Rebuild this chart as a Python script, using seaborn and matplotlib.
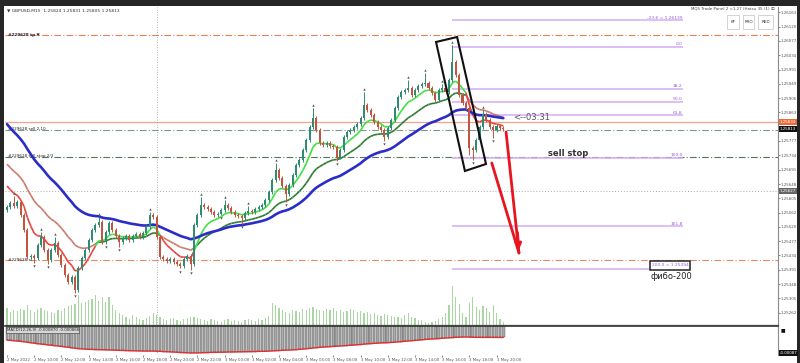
import numpy as np
import pandas as pd
import matplotlib
matplotlib.use("Agg")
import matplotlib.pyplot as plt
import seaborn as sns
from matplotlib.collections import LineCollection
from matplotlib.patches import Polygon, Rectangle

# ---------------- data ----------------
symbol_header = "\u25bc GBPUSD,M15  1.25824 1.25831 1.25805 1.25813"
time_start = "2022-05-02 08:00"
bar_minutes = 15

first_open = 1.25570
closes = [
    1.25579, 1.25591, 1.25582, 1.25594, 1.25555, 1.25510, 1.25429, 1.25432, 1.25426, 1.25465,
    1.25489, 1.25450, 1.25420, 1.25450, 1.25471, 1.25435, 1.25405, 1.25375, 1.25354, 1.25369,
    1.25330, 1.25396, 1.25426, 1.25450, 1.25480, 1.25510, 1.25525, 1.25534, 1.25474, 1.25504,
    1.25531, 1.25510, 1.25492, 1.25474, 1.25486, 1.25492, 1.25480, 1.25492, 1.25498, 1.25489,
    1.25501, 1.25519, 1.25555, 1.25549, 1.25489, 1.25429, 1.25423, 1.25417, 1.25423, 1.25414,
    1.25408, 1.25402, 1.25423, 1.25432, 1.25408, 1.25525, 1.25555, 1.25585, 1.25579, 1.25573,
    1.25564, 1.25555, 1.25558, 1.25570, 1.25585, 1.25576, 1.25564, 1.25555, 1.25552, 1.25546,
    1.25561, 1.25567, 1.25564, 1.25573, 1.25579, 1.25585, 1.25600, 1.25624, 1.25660, 1.25690,
    1.25666, 1.25642, 1.25618, 1.25645, 1.25675, 1.25705, 1.25720, 1.25750, 1.25780, 1.25819,
    1.25846, 1.25810, 1.25771, 1.25765, 1.25771, 1.25762, 1.25759, 1.25729, 1.25750, 1.25789,
    1.25804, 1.25810, 1.25819, 1.25828, 1.25846, 1.25885, 1.25870, 1.25855, 1.25834, 1.25819,
    1.25810, 1.25789, 1.25816, 1.25840, 1.25876, 1.25909, 1.25924, 1.25930, 1.25936, 1.25915,
    1.25930, 1.25942, 1.25948, 1.25951, 1.25936, 1.25921, 1.25900, 1.25930, 1.25936, 1.25924,
    1.25960, 1.26014, 1.25975, 1.25915, 1.25891, 1.25876, 1.25756, 1.25750, 1.25780, 1.25819,
    1.25858, 1.25840, 1.25819, 1.25810, 1.25822, 1.25816, 1.25813,
]
high_wicks = {2: 1.25612, 10: 1.25504, 14: 1.25489, 27: 1.25549, 42: 1.25564, 57: 1.25609,
              64: 1.25600, 71: 1.25582, 79: 1.25711, 90: 1.25876, 105: 1.25924, 118: 1.25960,
              123: 1.25981, 128: 1.25948, 131: 1.26065, 140: 1.25870}
low_wicks = {8: 1.25411, 12: 1.25408, 20: 1.25321, 29: 1.25468, 33: 1.25459, 51: 1.25395,
             54: 1.25390, 63: 1.25555, 69: 1.25528, 82: 1.25594, 97: 1.25717, 111: 1.25777,
             136: 1.25735, 137: 1.25720, 143: 1.25786}
default_wick = 0.00006

volumes = [
    170, 130, 150, 140, 160, 150, 200, 150, 130, 160, 170, 150, 140, 130, 120, 150, 140, 170, 190, 200, 210,
    300, 220, 230, 250, 260, 300, 240, 280, 230, 280, 200, 150,
    120, 100, 80, 60, 100, 80, 60, 50, 70, 90, 120, 100, 80, 60, 50, 60, 70, 50, 40, 60, 70, 80,
    80, 70, 60, 50, 40, 60, 50, 40, 30, 50, 60, 40, 50, 40, 30, 50, 60, 50, 40, 60, 50, 70, 90,
    220, 200, 170, 150, 130, 120,
    150, 140, 130, 160, 150, 170, 180, 160, 150, 140, 160, 150, 170, 140, 150, 130,
    140, 160, 150, 130, 140, 120, 130, 110, 120, 100, 90, 110, 100, 90, 80, 80,
    70, 100, 120, 80, 70, 50, 50, 30, 20, 30, 40, 60, 80,
    120, 200, 390, 280, 210, 120, 80, 220, 280, 180, 150, 190, 170, 130, 200, 120, 60, 30,
]

up_fractals = [2, 10, 14, 27, 42, 57, 64, 71, 79, 90, 105, 118, 123, 128, 131, 140]
down_fractals = [8, 12, 20, 29, 33, 51, 54, 63, 69, 82, 97, 111, 137, 143]

fast_period, slow_period, long_period, osc_period = 8, 21, 40, 55
fast_seed, slow_seed, long_seed, osc_seed = 1.25660, 1.25720, 1.25840, 1.25780

tp_level, sl_level = 1.26095, 1.25420
ask_level, bid_level = 1.25834, 1.25810
sell_stop_level, dotted_level = 1.25729, 1.25627
vline_bar = 44

fib_high, fib_low = 1.26060, 1.25727
fib_ratios = [-0.236, 0.0, 0.382, 0.5, 0.618, 1.0, 1.618, 2.0]
fib_names = ["-23.6", "0.0", "38.2", "50.0", "61.8", "100.0", "161.8", "200.0"]
fib_x = (130.9, 198.8)

sell_box = [(126.2, 1.26074), (132.4, 1.26089), (140.9, 1.25708), (134.7, 1.25687)]
arrow_tip = (150.6, 1.25441)
arrow_tails = [(146.8, 1.25804), (142.6, 1.25711)]
timer_text_pos = (148.8, 1.25849)
sell_stop_text_pos = (159.1, 1.25741)
fibo_text_pos = (189.3, 1.25372)
fib200_box = (189.1, 1.25390, 11.8, 0.00027)

# ---------------- derived series ----------------
N = len(closes)
idx = np.arange(N)
c = np.array(closes)
o = np.array([first_open] + closes[:-1])
hi = np.maximum(o, c) + default_wick
lo = np.minimum(o, c) - default_wick
for k, v in high_wicks.items():
    hi[k] = v
for k, v in low_wicks.items():
    lo[k] = v


def ema(seed, period):
    s = pd.Series([seed] + closes).ewm(span=period, adjust=False).mean().values
    return s[1:]


fast = ema(fast_seed, fast_period)
slow = ema(slow_seed, slow_period)
longma = ema(long_seed, long_period)
osc = ema(osc_seed, osc_period)
times = pd.date_range(time_start, periods=N, freq=f"{bar_minutes}min")

# ---------------- figure ----------------
sns.set_theme(style="white")
plt.rcParams['font.family'] = ['DejaVu Sans', 'Noto Sans CJK JP']

W, H = 800, 363
fig = plt.figure(figsize=(8, 3.63), dpi=100, facecolor='#262626')
fig.add_artist(Rectangle((4 / W, 0), 793 / W, 357 / H, transform=fig.transFigure,
                         facecolor='white', edgecolor='none', zorder=0))

ax = fig.add_axes([5 / W, 1 - 325 / H, 773 / W, 318 / H])
sub = fig.add_axes([5 / W, 1 - 355 / H, 773 / W, 29 / H], sharex=ax)
vax = ax.twinx()
vax.set_zorder(1)
ax.set_zorder(2)
for a in (ax, vax, sub):
    a.patch.set_visible(False)

ax.set_xlim(-0.6, 226.8)
ax.set_ylim(1.25225, 1.26179)

# volumes
vax.set_ylim(0, 3180)
vax.bar(idx, volumes, width=0.35, color='#a9d6a2', linewidth=0)
vax.axis('off')

# horizontal levels
dd = (0, (6, 2, 1, 2))
ax.axhline(tp_level, color='#e8824c', lw=0.8, ls=dd)
ax.axhline(sl_level, color='#e88a6a', lw=0.8, ls=dd)
ax.axhline(ask_level, color='#f2a48a', lw=0.9)
ax.axhline(bid_level, color='#7f9a88', lw=0.8, ls=dd)
ax.axhline(sell_stop_level, color='#55765a', lw=0.8, ls=dd)
ax.axhline(dotted_level, color='#aaaaaa', lw=0.7, ls=(0, (1, 2)))
ax.axvline(vline_bar, color='#999999', lw=0.6, ls=(0, (1, 2)))
sub.axvline(vline_bar, color='#999999', lw=0.6, ls=(0, (1, 2)))

# level tags on the left
tagkw = dict(fontsize=3.0, color='#222222', va='center', ha='left')
ax.text(0.2, tp_level, "#229628 tp \u25bc", fontweight='bold', **tagkw)
ax.text(0.2, bid_level + 0.00004, "#229628 sell 2.10", **tagkw)
ax.text(0.2, sell_stop_level + 0.00004, "#229628 sell stop 2/3", **tagkw)
ax.text(0.2, sl_level, "#229628 sl", **tagkw)

# fibonacci
fib_vals = [fib_high - r * (fib_high - fib_low) for r in fib_ratios]
for name, v in zip(fib_names, fib_vals):
    ax.plot(fib_x, [v, v], color='#d3aef5', lw=1.1, solid_capstyle='butt')
    if name == "-23.6":
        label = f"{name} = {v:.5f}"
    elif name == "200.0":
        continue
    else:
        label = name
    ax.text(fib_x[1], v + 0.00002, label, fontsize=3.2, color='#9a5cd6',
            ha='right', va='bottom')
bx, by, bw, bh = fib200_box
ax.add_patch(Rectangle((bx, by), bw, bh, facecolor='white', edgecolor='#222222', lw=1.1, zorder=5))
ax.text(bx + bw / 2, by + bh / 2, f"200.0 = {fib_vals[-1]:.5f}", fontsize=3.2,
        color='#9a5cd6', ha='center', va='center', zorder=6)


# moving averages coloured by trend
def trend_line(values, up_col, dn_col, lw):
    pts = np.column_stack([idx, values])
    segs = np.stack([pts[:-1], pts[1:]], axis=1)
    cols = [up_col if fast[i + 1] >= slow[i + 1] else dn_col for i in range(N - 1)]
    ax.add_collection(LineCollection(segs, colors=cols, linewidths=lw, zorder=3))


trend_line(slow, '#2f7d34', '#cd7a6c', 1.2)
trend_line(fast, '#3fe03f', '#e8453f', 1.2)
sns.lineplot(x=idx, y=longma, ax=ax, color='#2c2cc8', lw=1.9, zorder=3)

# candles
bull = c >= o
for mask, col in ((bull, '#2f8c73'), (~bull, '#c0563f')):
    ax.vlines(idx[mask], lo[mask], hi[mask], color=col, lw=0.7, zorder=4)
    body = np.maximum(np.abs(c - o)[mask], 0.00002)
    ax.bar(idx[mask], body, bottom=np.minimum(o, c)[mask], width=0.62, color=col,
           linewidth=0, zorder=4)

# fractals
ax.scatter(up_fractals, hi[up_fractals] + 0.00010, marker='^', s=3, color='#555555',
           linewidths=0, zorder=4)
ax.scatter(down_fractals, lo[down_fractals] - 0.00010, marker='v', s=3, color='#555555',
           linewidths=0, zorder=4)

# annotations
ax.add_patch(Polygon(sell_box, closed=True, fill=False, edgecolor='#111111', lw=1.5, zorder=6))
red = '#e8141e'
for tx, ty in arrow_tails:
    ax.plot([tx, arrow_tip[0]], [ty, arrow_tip[1]], color=red, lw=2.0, zorder=6,
            solid_capstyle='round')
ax.annotate('', xy=arrow_tip, xytext=(arrow_tip[0] - 0.5, arrow_tip[1] + 0.0007),
            arrowprops=dict(arrowstyle='-|>', color=red, lw=2.0, mutation_scale=9), zorder=7)
ax.text(*timer_text_pos, "<--03:31", fontsize=6, color='#555555', va='center', ha='left')
ax.text(*sell_stop_text_pos, "sell stop", fontsize=6, fontweight='bold', color='#333333',
        va='center', ha='left')
ax.text(*fibo_text_pos, "\u0444\u0438\u0431\u043e-200", fontsize=6, color='#222222',
        va='center', ha='left')

# axes styling: main
for s in ('top', 'left'):
    ax.spines[s].set_visible(False)
ax.spines['right'].set_color('#8a8a8a')
ax.spines['right'].set_linewidth(0.8)
ax.spines['bottom'].set_color('#444444')
ax.spines['bottom'].set_linewidth(0.9)
ax.yaxis.tick_right()
tick_vals = [round(1.261631 - 0.000429 * k, 5) for k in range(22) if k != 8]
ax.set_yticks(tick_vals)
ax.set_yticklabels([f"{v:.5f}" for v in tick_vals])
ax.tick_params(axis='y', labelsize=2.9, colors='#555555', length=1.2, width=0.5, pad=0.8)
ax.tick_params(axis='x', bottom=False, labelbottom=False)
ax.set_xlabel('')
ax.set_ylabel('')

trans = ax.get_yaxis_transform()
boxkw = dict(transform=trans, fontsize=2.9, color='white', ha='left', va='center')
ax.text(1.002, ask_level, f"{ask_level:.5f}",
        bbox=dict(boxstyle='square,pad=0.2', fc='#ee6a3a', ec='none'), **boxkw)
ax.text(1.002, closes[-1], f"{closes[-1]:.5f}",
        bbox=dict(boxstyle='square,pad=0.2', fc='#111111', ec='none'), **boxkw)
ax.text(1.002, dotted_level, f"{dotted_level:.5f}",
        bbox=dict(boxstyle='square,pad=0.2', fc='#666666', ec='none'), **boxkw)

# sub panel
span = osc.max() - osc.min()
pp = span / 16
top = osc.max() + 11 * pp
sub.set_ylim(osc.min() - 2 * pp, top)
sub.bar(idx, top - osc, bottom=osc, width=0.75, color='#a8a8a8', edgecolor='#3a3a3a',
        linewidth=0.25)
sub.plot(idx, osc, color='#e03030', lw=1.0)
for s in ('left', 'bottom'):
    sub.spines[s].set_visible(False)
sub.spines['top'].set_color('#333333')
sub.spines['top'].set_linewidth(1.2)
sub.spines['right'].set_color('#8a8a8a')
sub.spines['right'].set_linewidth(0.8)
sub.set_yticks([])
sub.text(0.002, 0.86, "MACD(12,26,9) -0.000870 -0.000868", transform=sub.transAxes,
         fontsize=2.8, color='#222222', va='center', ha='left',
         bbox=dict(boxstyle='square,pad=0.15', fc='#d8d8d8', ec='#333333', lw=0.4))
sub.text(1.004, 0.86, "\u25a0", transform=sub.transAxes, fontsize=3.5, color='#111111',
         va='center', ha='left')
sub.text(1.002, 0.06, "-0.00087", transform=sub.transAxes, fontsize=2.9, color='white',
         va='center', ha='left', bbox=dict(boxstyle='square,pad=0.2', fc='#111111', ec='none'))

tick_idx = idx[::8]
labels = []
for j, t in zip(tick_idx, times[tick_idx]):
    labels.append("2 May 2022" if j == 0 else f"{t.day} May {t:%H:%M}")
sub.set_xticks(tick_idx)
sub.set_xticklabels(labels, fontsize=2.8, ha='left', color='#555555')
sub.tick_params(axis='x', length=1.5, width=0.5, pad=0.8, colors='#555555', bottom=True)

# header / trade panel
fig.text(7 / W, 1 - 10 / H, symbol_header, fontsize=3.2, color='#333333', va='center')
fig.text(775 / W, 1 - 9 / H, "MQ5 Trade Panel 2 <1.27 (Hatsu 35 (1) \u24d8", fontsize=2.9,
         color='#444444', va='center', ha='right', family=['DejaVu Sans', 'Noto Sans CJK JP'])
for (x0, x1, lab) in ((727, 739, "KF"), (743, 754, "PRO"), (758, 773, "RED")):
    fig.add_artist(Rectangle((x0 / W, 1 - 29 / H), (x1 - x0) / W, 14 / H,
                             transform=fig.transFigure, facecolor='white',
                             edgecolor='#cccccc', lw=0.6, zorder=5))
    fig.text((x0 + x1) / 2 / W, 1 - 22 / H, lab, fontsize=3.0, color='#333333',
             ha='center', va='center', zorder=6)

fig.savefig("out.png", dpi=100, facecolor=fig.get_facecolor())
